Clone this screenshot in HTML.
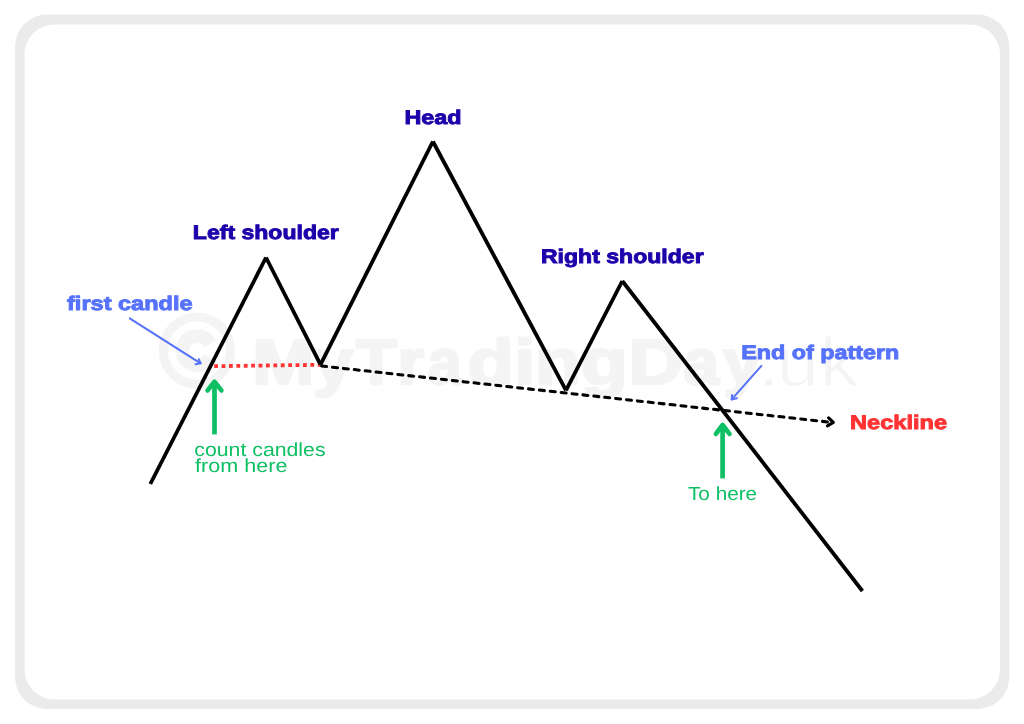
<!DOCTYPE html>
<html>
<head>
<meta charset="utf-8">
<style>
html,body{margin:0;padding:0;background:#ffffff;width:1024px;height:724px;overflow:hidden;}
svg{display:block;will-change:transform;}
text{font-family:"Liberation Sans", sans-serif;text-rendering:geometricPrecision;}
</style>
</head>
<body>
<svg width="1024" height="724" viewBox="0 0 1024 724">
  <rect x="0" y="0" width="1024" height="724" fill="#ffffff"/>
  <!-- frame -->
  <rect x="15" y="14.5" width="994.3" height="694.5" rx="32" ry="32" fill="#ebebeb"/>
  <rect x="24.5" y="24.5" width="975.5" height="675" rx="30" ry="30" fill="#ffffff"/>

  <!-- watermark -->
  <g fill="#f4f4f4">
    <circle cx="196.9" cy="350.6" r="33.6" fill="none" stroke="#f4f4f4" stroke-width="9.2"/>
    <path d="M 210.27 343.75 A 14.8 14.8 0 1 0 210.27 357.65" fill="none" stroke="#f4f4f4" stroke-width="13.4"/>
    <g stroke="#f4f4f4" stroke-width="2.5" stroke-linejoin="round">
    <text transform="matrix(1.1763 0 0 1 251.92 383.95)" font-size="63.95" font-weight="bold">M</text>
    <text transform="matrix(1.1289 0 0 1 312.89 383.95)" font-size="63.95" font-weight="bold">y</text>
    <text transform="matrix(1.0435 0 0 1 355.90 383.95)" font-size="63.95" font-weight="bold">T</text>
    <text transform="matrix(1.0861 0 0 1 397.27 383.95)" font-size="63.95" font-weight="bold">r</text>
    <text transform="matrix(0.9677 0 0 1 427.44 383.95)" font-size="63.95" font-weight="bold">a</text>
    <text transform="matrix(1.1729 0 0 1 467.77 383.95)" font-size="63.95" font-weight="bold">d</text>
    <text transform="matrix(1.1966 0 0 1 514.01 383.95)" font-size="63.95" font-weight="bold">i</text>
    <text transform="matrix(1.1818 0 0 1 534.87 383.95)" font-size="63.95" font-weight="bold">n</text>
    <text transform="matrix(1.1970 0 0 1 581.11 383.95)" font-size="63.95" font-weight="bold">g</text>
    <text transform="matrix(1.1728 0 0 1 628.43 383.95)" font-size="63.95" font-weight="bold">D</text>
    <text transform="matrix(1.0059 0 0 1 683.37 383.95)" font-size="63.95" font-weight="bold">a</text>
    <text transform="matrix(1.0655 0 0 1 723.22 383.95)" font-size="63.95" font-weight="bold">y</text>
    </g>
    <g stroke="#ffffff" stroke-width="1.2" style="paint-order:fill">
    <text transform="matrix(1.3394 0 0 1 755.76 386.0)" font-size="69.00" font-weight="normal">.</text>
    <text transform="matrix(1.1053 0 0 1 776.45 386.0)" font-size="69.00" font-weight="normal">u</text>
    <text transform="matrix(1.1351 0 0 1 819.62 386.0)" font-size="69.00" font-weight="normal">k</text>
    </g>
  </g>

  <!-- red dotted -->
  <line x1="214.2" y1="366.2" x2="320.2" y2="364.8" stroke="#ff3333" stroke-width="3.8" stroke-dasharray="3.8 3.6"/>

  <!-- neckline dashed -->
  <path d="M 320.8 365.9 L 830 422.2" fill="none" stroke="#000" stroke-width="3.05" stroke-linecap="round" stroke-dasharray="5 5.955" stroke-dashoffset="10.135"/>
  <path d="M 828.6 417.9 L 833.3 422.4 L 827.5 425.9" fill="none" stroke="#000" stroke-width="3.1" stroke-linecap="round" stroke-linejoin="round"/>

  <!-- main price line -->
  <g stroke="#000" stroke-width="3.8" stroke-linecap="butt">
  <line x1="150.3" y1="484" x2="266" y2="257.5"/>
  <line x1="266" y1="257.5" x2="320.5" y2="364.6"/>
  <line x1="320.5" y1="364.6" x2="432.9" y2="141.5"/>
  <line x1="432.9" y1="141.5" x2="566" y2="390.3"/>
  <line x1="566" y1="390.3" x2="622.3" y2="281"/>
  <line x1="622.3" y1="281" x2="862.4" y2="591"/>
  </g>

  <!-- blue arrows -->
  <g fill="none" stroke="#5672fb" stroke-width="2.0" stroke-linecap="round" stroke-linejoin="round">
    <path d="M 129.7 318.3 L 200.6 363.3"/>
    <path d="M 198.8 359.2 L 200.6 363.3 L 195.5 364.2"/>
    <path d="M 761.4 365.9 L 731.7 399.4"/>
    <path d="M 732.1 394.9 L 731.7 399.4 L 736.9 398.3"/>
  </g>

  <!-- green arrows -->
  <g fill="none" stroke="#0ebf64" stroke-width="4.7" stroke-linecap="round" stroke-linejoin="round">
    <path d="M 214.5 434.4 L 214.5 383" stroke-linecap="butt"/>
    <path d="M 207.6 390.4 L 214.5 381.8 L 221.4 390.4"/>
    <path d="M 722.6 478.4 L 722.6 427" stroke-linecap="butt"/>
    <path d="M 715.9 433.9 L 722.6 425 L 729.5 433.9"/>
  </g>

  <!-- labels -->
  <g font-weight="bold" font-size="19.6" stroke-width="0.9" style="paint-order:stroke">
    <text x="404.42" y="124" fill="#1d00aa" stroke="#1d00aa" textLength="57.15" lengthAdjust="spacingAndGlyphs">Head</text>
    <text x="192.86" y="239" fill="#1d00aa" stroke="#1d00aa" textLength="145.92" lengthAdjust="spacingAndGlyphs">Left shoulder</text>
    <text x="540.98" y="263" fill="#1d00aa" stroke="#1d00aa" textLength="162.66" lengthAdjust="spacingAndGlyphs">Right shoulder</text>
    <text x="67.01" y="310" fill="#5672fb" stroke="#5672fb" textLength="125.61" lengthAdjust="spacingAndGlyphs">first candle</text>
    <text x="741.32" y="359" fill="#5672fb" stroke="#5672fb" textLength="157.94" lengthAdjust="spacingAndGlyphs">End of pattern</text>
    <text x="850.12" y="429" fill="#ff3333" stroke="#ff3333" textLength="96.92" lengthAdjust="spacingAndGlyphs">Neckline</text>
  </g>
  <g font-size="19" fill="#0ebf64">
    <text x="194.31" y="456" textLength="131.27" lengthAdjust="spacingAndGlyphs">count candles</text>
    <text x="195.04" y="472" textLength="92.38" lengthAdjust="spacingAndGlyphs">from here</text>
    <text x="687.99" y="500" textLength="69.17" lengthAdjust="spacingAndGlyphs">To here</text>
  </g>
</svg>
</body>
</html>
